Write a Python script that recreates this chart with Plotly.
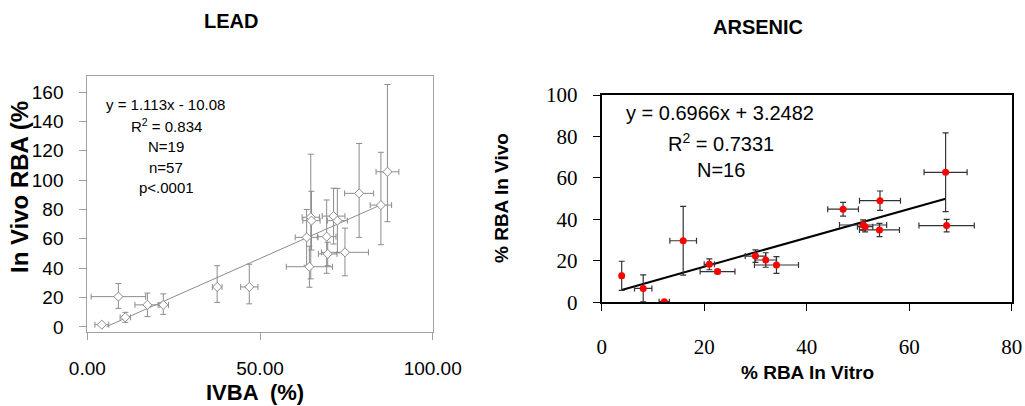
import plotly.graph_objects as go

# ---- LEAD (左) ----
lead_x = [4.2, 9.0, 11.0, 17.4, 22.0, 37.6, 46.9, 63.5, 64.3, 64.7, 64.9,
          69.3, 69.6, 71.3, 72.4, 74.6, 78.7, 85.0, 86.9]
lead_y = [1.5, 20.6, 6.5, 15.0, 15.0, 27.2, 27.2, 61.0, 41.0, 74.7, 72.4,
          61.5, 49.7, 75.5, 72.4, 50.8, 91.0, 83.0, 105.7]
lead_xerr = [2.0, 7.9, 1.5, 3.6, 1.5, 1.4, 2.5, 3.3, 6.7, 2.5, 2.5,
             2.7, 2.7, 3.3, 2.9, 6.8, 4.2, 3.1, 3.3]
lead_yerr_plus = [0.5, 9.0, 3.4, 8.0, 7.5, 14.5, 15.5, 19.0, 14.0, 43.0, 20.0,
                  25.0, 8.0, 19.0, 22.0, 16.5, 34.0, 36.0, 59.5]
lead_yerr_minus = [0.5, 8.0, 3.4, 8.0, 6.5, 10.5, 11.5, 19.0, 14.0, 42.0, 20.0,
                   25.0, 8.0, 19.0, 22.0, 16.0, 30.0, 27.0, 34.0]
lead_fit_x = [5.6, 85.0]
lead_fit_slope = 1.045
lead_fit_icept = -5.65

# ---- ARSENIC (右) ----
as_x = [3.9, 8.1, 12.2, 15.9, 21.0, 22.6, 30.0, 32.0, 34.1, 47.1, 51.0,
        51.4, 54.3, 54.2, 67.1, 67.3]
as_y = [12.8, 6.7, 0.3, 29.7, 18.3, 14.8, 22.3, 20.4, 18.0, 44.9, 37.3,
        36.5, 49.0, 34.9, 62.7, 37.0]
as_xerr = [0.3, 1.7, 1.0, 2.6, 1.0, 3.4, 2.0, 2.1, 4.3, 3.0, 4.6,
           1.5, 4.0, 3.9, 4.2, 5.4]
as_yerr = [7.0, 6.5, 0.5, 16.6, 2.6, 1.0, 3.0, 3.5, 4.0, 3.3, 2.5,
           2.5, 4.7, 3.2, 19.0, 3.0]
as_fit_x = [3.9, 67.1]
as_fit_slope = 0.6966
as_fit_icept = 3.2482

W, H = 1025, 406


def px_x(p):
    return p / W


def px_y(p):
    return 1 - p / H


fig = go.Figure()

# 左: 回帰線 + 点
fig.add_trace(go.Scatter(
    x=lead_fit_x, y=[lead_fit_slope * v + lead_fit_icept for v in lead_fit_x],
    mode="lines", line=dict(color="#8c8c8c", width=1),
    xaxis="x", yaxis="y", showlegend=False, hoverinfo="skip"))
fig.add_trace(go.Scatter(
    x=lead_x, y=lead_y, mode="markers",
    marker=dict(symbol="diamond", size=7, color="white",
                line=dict(color="#8c8c8c", width=1)),
    error_x=dict(type="data", array=lead_xerr, color="#8c8c8c", thickness=1, width=3),
    error_y=dict(type="data", symmetric=False, array=lead_yerr_plus,
                 arrayminus=lead_yerr_minus, color="#8c8c8c", thickness=1, width=3),
    xaxis="x", yaxis="y", showlegend=False))

# 右: 回帰線 + 点
fig.add_trace(go.Scatter(
    x=as_fit_x, y=[as_fit_slope * v + as_fit_icept for v in as_fit_x],
    mode="lines", line=dict(color="black", width=2),
    xaxis="x2", yaxis="y2", showlegend=False, hoverinfo="skip"))
fig.add_trace(go.Scatter(
    x=as_x, y=as_y, mode="markers",
    marker=dict(symbol="circle", size=7, color="#ff0000"),
    error_x=dict(type="data", array=as_xerr, color="#333333", thickness=1.2, width=3),
    error_y=dict(type="data", array=as_yerr, color="#333333", thickness=1.2, width=3),
    xaxis="x2", yaxis="y2", showlegend=False))

arial = "Liberation Sans"
serif = "Liberation Serif"

fig.update_layout(
    width=W, height=H, autosize=False,
    margin=dict(l=0, r=0, t=0, b=0, pad=0),
    plot_bgcolor="white", paper_bgcolor="white",
    font=dict(family=arial, color="black"),
    xaxis=dict(domain=[px_x(87.3), px_x(432.7)], range=[0, 100], dtick=50,
               tickformat=".2f", showgrid=False, zeroline=False, automargin=False,
               showline=True, mirror=True, linecolor="#a0a0a0", linewidth=1,
               ticks="outside", ticklen=7, tickcolor="#a0a0a0",
               ticklabelstandoff=12, tickfont=dict(size=19, family=arial),
               anchor="y"),
    yaxis=dict(domain=[px_y(332), px_y(76)], range=[-3.5, 171], dtick=20,
               showgrid=False, zeroline=False, automargin=False,
               showline=True, mirror=True, linecolor="#a0a0a0", linewidth=1,
               ticks="outside", ticklen=7, tickcolor="#a0a0a0",
               ticklabelstandoff=12, tickfont=dict(size=19, family=arial),
               anchor="x"),
    xaxis2=dict(domain=[px_x(601.7), px_x(1011.7)], range=[0, 80], dtick=20,
                showgrid=False, zeroline=False, automargin=False,
                showline=True, mirror=True, linecolor="black", linewidth=2,
                ticks="outside", ticklen=7, tickcolor="black",
                ticklabelstandoff=17, tickfont=dict(size=21, family=serif),
                anchor="y2"),
    yaxis2=dict(domain=[px_y(302.3), px_y(95)], range=[0, 100], dtick=20,
                showgrid=False, zeroline=False, automargin=False,
                showline=True, mirror=True, linecolor="black", linewidth=2,
                ticks="outside", ticklen=7, tickcolor="black",
                ticklabelstandoff=11, tickfont=dict(size=21, family=serif),
                anchor="x2"),
)


def note(text, x, y, size, bold=False, angle=0, family=arial):
    if bold:
        text = f"<b>{text}</b>"
    fig.add_annotation(text=text, x=px_x(x), y=px_y(y), xref="paper", yref="paper",
                       xanchor="center", yanchor="middle", showarrow=False,
                       textangle=angle, font=dict(size=size, family=family, color="black"))


# タイトル・軸タイトル
note("LEAD", 231, 21, 20, bold=True)
note("ARSENIC", 758, 27, 20, bold=True)
note("In Vivo RBA (%", 19, 187, 24, bold=True, angle=-90)
note("IVBA  (%)", 255, 392, 22, bold=True)
note("% RBA In Vivo", 502, 198, 19, bold=True, angle=-90)
note("% RBA In Vitro", 807, 372, 19, bold=True)

# 回帰式
note("y = 1.113x - 10.08", 165, 104, 15)
note("R<sup>2</sup> = 0.834", 166, 126, 15)
note("N=19", 166, 147, 15)
note("n=57", 166, 167, 15)
note("p<.0001", 166, 187, 15)

note("y = 0.6966x + 3.2482", 720, 113, 20)
note("R<sup>2</sup> = 0.7331", 721, 142, 20)
note("N=16", 721, 170, 20)

# body の余白 8px を消して、図をウィンドウ左上にぴったり置く
fig.write_html("out.html",
               config={"displayModeBar": False},
               post_script="document.body.style.margin='0';"
                           "document.body.style.overflow='hidden';")
